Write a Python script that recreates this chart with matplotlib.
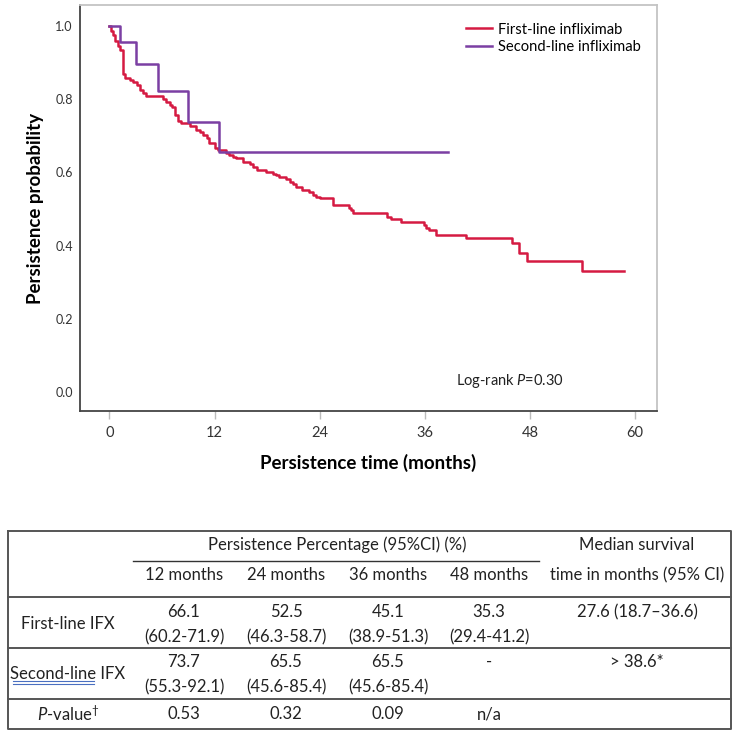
import matplotlib
matplotlib.use("Agg")
import matplotlib.pyplot as plt
from matplotlib.lines import Line2D

plt.rcParams["font.family"] = ["Lato", "DejaVu Sans"]
plt.rcParams["mathtext.fontset"] = "custom"
plt.rcParams["mathtext.rm"] = "Lato"
plt.rcParams["mathtext.it"] = "Lato:italic"

# ---- Kaplan-Meier curves ----
first_times = [0, 0.2, 0.4, 0.6, 1.0, 1.2, 1.5, 1.8, 2.3, 2.7, 3.1, 3.5, 3.8, 4.2,
               6.1, 6.5, 6.9, 7.1, 7.5, 7.8, 8.2, 9.2, 9.9, 10.3, 10.7, 11.1, 11.4,
               12.0, 12.4, 13.3, 13.7, 14.1, 14.5, 15.2, 16.0, 16.4, 16.8, 17.9,
               18.7, 19.0, 19.4, 20.2, 20.6, 21.0, 21.3, 22.0, 22.8, 23.2, 23.6,
               24.0, 25.5, 27.4, 27.6, 27.8, 31.7, 32.2, 33.3, 35.9, 36.2, 36.5,
               37.3, 40.7, 46.0, 46.8, 47.7, 54.0, 58.7]
first_surv = [1.0, 0.985, 0.975, 0.96, 0.945, 0.935, 0.87, 0.858, 0.852, 0.846,
              0.838, 0.826, 0.816, 0.81, 0.80, 0.792, 0.785, 0.778, 0.757, 0.74,
              0.735, 0.726, 0.717, 0.71, 0.702, 0.693, 0.68, 0.666, 0.66, 0.652,
              0.647, 0.643, 0.638, 0.629, 0.624, 0.616, 0.607, 0.602, 0.597,
              0.592, 0.588, 0.583, 0.575, 0.568, 0.561, 0.552, 0.547, 0.538,
              0.534, 0.529, 0.511, 0.503, 0.496, 0.488, 0.479, 0.474, 0.465,
              0.456, 0.449, 0.442, 0.429, 0.42, 0.406, 0.379, 0.359, 0.331, 0.331]

second_times = [0, 1.2, 3.0, 5.5, 9.0, 12.5, 38.6]
second_surv = [1.0, 0.955, 0.895, 0.822, 0.737, 0.655, 0.655]

x_ticks = [0, 12, 24, 36, 48, 60]
y_ticks = [0.0, 0.2, 0.4, 0.6, 0.8, 1.0]

# ---- table contents ----
month_cols = ["12 months", "24 months", "36 months", "48 months"]
first_pct = ["66.1", "52.5", "45.1", "35.3"]
first_ci = ["(60.2-71.9)", "(46.3-58.7)", "(38.9-51.3)", "(29.4-41.2)"]
second_pct = ["73.7", "65.5", "65.5", "-"]
second_ci = ["(55.3-92.1)", "(45.6-85.4)", "(45.6-85.4)", ""]
p_values = ["0.53", "0.32", "0.09", "n/a"]
median_first = "27.6 (18.7\u201336.6)"
median_second = "> 38.6*"

red = "#d51a42"
purple = "#7b3fa3"

fig = plt.figure(figsize=(7.38, 7.34), dpi=100)
ax = fig.add_axes([0.108, 0.44, 0.782, 0.553])

ax.step(first_times, first_surv, where="post", color=red, lw=1.8,
        label="First-line infliximab")
ax.step(second_times, second_surv, where="post", color=purple, lw=1.8,
        label="Second-line infliximab")

ax.set_xlim(-3.4, 62.5)
ax.set_ylim(-0.052, 1.057)
ax.set_xticks(x_ticks)
ax.set_yticks(y_ticks)
ax.set_yticklabels([f"{v:.1f}" for v in y_ticks])

for s in ["left", "bottom"]:
    ax.spines[s].set_color("#444444")
    ax.spines[s].set_linewidth(1.3)
for s in ["top", "right"]:
    ax.spines[s].set_color("#c4c4c4")
    ax.spines[s].set_linewidth(1.3)

ax.tick_params(axis="y", length=0, pad=5, labelsize=9, labelcolor="#333333")
ax.tick_params(axis="x", length=6, width=1, color="#bbbbbb", pad=5,
               labelsize=10.5, labelcolor="#333333")

ax.set_xlabel("Persistence time (months)", fontsize=13.5, fontweight="bold",
              labelpad=10)
ax.set_ylabel("Persistence probability", fontsize=13.5, fontweight="bold",
              labelpad=8)

ax.legend(loc="upper left", bbox_to_anchor=(0.669, 0.957), frameon=False,
          fontsize=10.6, borderpad=0, borderaxespad=0, handlelength=1.75,
          handletextpad=0.45, labelspacing=0.25)

ax.text(0.745, 0.075, "Log-rank $P$=0.30", transform=ax.transAxes,
        ha="center", va="center", fontsize=10.5, color="#222222")

# ---- table drawn on an overlay in pixel units ----
tab = fig.add_axes([0, 0, 1, 1])
tab.set_xlim(0, 738)
tab.set_ylim(734, 0)
tab.axis("off")

border = "#555555"
tab.add_line(Line2D([8, 731, 731, 8, 8], [531, 531, 729, 729, 531],
                    color=border, lw=1.4))
for yy in [597, 648, 699]:
    tab.add_line(Line2D([8, 731], [yy, yy], color=border, lw=1.4))
tab.add_line(Line2D([133, 539], [561, 561], color="#333333", lw=1.0))

tc = "#222222"
fs = 12
col_x = [184, 286, 388, 489]
med_x = 637

tab.text(337, 545, "Persistence Percentage (95%CI) (%)", ha="center",
         va="center", fontsize=fs, color=tc)
tab.text(med_x, 545, "Median survival", ha="center", va="center",
         fontsize=fs, color=tc)
tab.text(med_x, 575, "time in months (95% CI)", ha="center", va="center",
         fontsize=fs, color=tc)
for x, lab in zip(col_x, month_cols):
    tab.text(x, 575, lab, ha="center", va="center", fontsize=fs, color=tc)

tab.text(68, 624, "First-line IFX", ha="center", va="center", fontsize=fs,
         color=tc)
for x, p, c in zip(col_x, first_pct, first_ci):
    tab.text(x, 612, p, ha="center", va="center", fontsize=fs, color=tc)
    tab.text(x, 637, c, ha="center", va="center", fontsize=fs, color=tc)
tab.text(med_x, 612, median_first, ha="center", va="center", fontsize=fs,
         color=tc)

tab.text(68, 674, "Second-line IFX", ha="center", va="center", fontsize=fs,
         color=tc)
tab.add_line(Line2D([13, 94], [681, 681], color="#4a6fc0", lw=0.8))
tab.add_line(Line2D([13, 94], [683.5, 683.5], color="#4a6fc0", lw=0.8))
for x, p, c in zip(col_x, second_pct, second_ci):
    tab.text(x, 662, p, ha="center", va="center", fontsize=fs, color=tc)
    if c:
        tab.text(x, 687, c, ha="center", va="center", fontsize=fs, color=tc)
tab.text(med_x, 662, median_second, ha="center", va="center", fontsize=fs,
         color=tc)

tab.text(68, 714, "$P$-value$^{\u2020}$", ha="center", va="center",
         fontsize=fs, color=tc)
for x, p in zip(col_x, p_values):
    tab.text(x, 714, p, ha="center", va="center", fontsize=fs, color=tc)

fig.savefig("out.png", dpi=100, facecolor="white")
